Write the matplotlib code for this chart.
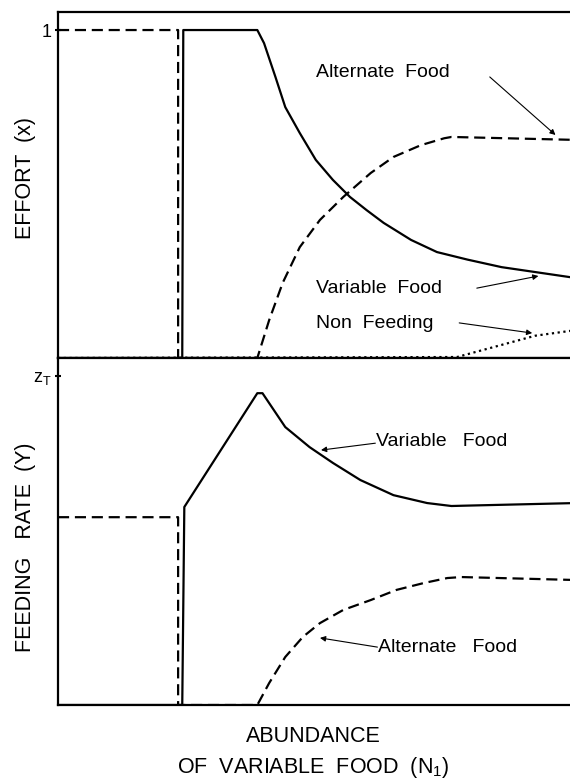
import matplotlib.pyplot as plt

plt.rcParams['font.family'] = ['Liberation Sans', 'DejaVu Sans']
plt.rcParams['mathtext.fontset'] = 'custom'
plt.rcParams['mathtext.rm'] = 'Liberation Sans'
plt.rcParams['mathtext.it'] = 'Liberation Sans'

# abundance axis runs 0..100 (arbitrary units), effort / rate scaled so the tick = 1
# --- effort panel ---
alt_effort_x = [0, 23.2, 23.2, 38.5, 40.8, 43.4, 46.7, 50.6, 55.1, 60.4, 64.8, 70.1, 74.6, 76.0, 100]
alt_effort_y = [1, 1, 0, 0, 0.116, 0.229, 0.338, 0.421, 0.491, 0.564, 0.613, 0.649, 0.670, 0.674, 0.665]

var_effort_x = [0, 24.0, 24.2, 38.5, 39.8, 42.0, 43.9, 46.7, 49.8, 53.1, 56.4, 59.6,
                62.9, 68.2, 73.2, 79.1, 85.7, 92.2, 100]
var_effort_y = [0, 0, 1, 1, 0.960, 0.857, 0.765, 0.686, 0.604, 0.543, 0.491, 0.451,
                0.412, 0.360, 0.323, 0.300, 0.277, 0.262, 0.244]

non_feed_x = [0, 77.1, 85.7, 92.2, 100]
non_feed_y = [0, 0.003, 0.040, 0.068, 0.085]

# --- feeding rate panel ---
alt_rate_x = [0, 23.2, 23.2, 38.5, 40.8, 43.9, 47.3, 50.6, 55.1, 60.4, 65.4, 70.7, 75.2, 77.9, 100]
alt_rate_y = [0.571, 0.571, 0, 0, 0.067, 0.146, 0.207, 0.249, 0.289, 0.319, 0.350, 0.371, 0.386, 0.389, 0.380]

var_rate_x = [0, 24.0, 24.4, 38.5, 39.5, 43.9, 48.6, 53.1, 58.4, 64.8, 71.3, 76.0, 78.5, 100]
var_rate_y = [0, 0, 0.602, 0.948, 0.948, 0.845, 0.784, 0.736, 0.684, 0.638, 0.614, 0.605, 0.606, 0.614]

fig = plt.figure(figsize=(5.7, 7.8), dpi=100)
ax1 = fig.add_axes([58/570, 1-358/780, 1-58/570+0.01, 346/780])
ax2 = fig.add_axes([58/570, 1-705/780, 1-58/570+0.01, 347/780])

dash = (5, 2.6)
lw = 1.6

ax1.plot(alt_effort_x, alt_effort_y, color='black', lw=lw, dashes=dash)
ax1.plot(var_effort_x, var_effort_y, color='black', lw=lw)
ax1.plot(non_feed_x, non_feed_y, color='black', lw=lw, linestyle=(0, (1, 1.6)))

ax2.plot(alt_rate_x, alt_rate_y, color='black', lw=lw, dashes=dash)
ax2.plot(var_rate_x, var_rate_y, color='black', lw=lw)

for ax in (ax1, ax2):
    ax.set_xlim(0, 100)
    ax.set_ylim(0, 1.055)
    ax.set_xticks([])
    ax.set_yticks([1])
    ax.tick_params(axis='y', direction='inout', length=5, width=1.5, labelsize=13, pad=2)
    for s in ax.spines.values():
        s.set_linewidth(1.6)
    ax.spines['right'].set_visible(False)

ax1.set_yticklabels(['1'])
ax2.set_yticklabels([r'$\mathregular{z_T}$'])

ax1.set_ylabel('EFFORT  (x)', fontsize=15.5)
ax2.set_ylabel('FEEDING   RATE  (Y)', fontsize=15.5)
ax1.yaxis.set_label_coords(-0.043, 0.52)
ax2.yaxis.set_label_coords(-0.043, 0.455)

fs = 14
arrow = dict(arrowstyle='-|>', lw=0.8, color='black', mutation_scale=8, shrinkA=0, shrinkB=0)

ax1.text(49.8, 0.872, 'Alternate  Food', fontsize=fs, va='center', ha='left')
ax1.annotate('', xy=(96.1, 0.680), xytext=(83.4, 0.857), arrowprops=arrow)
ax1.text(49.8, 0.213, 'Variable  Food', fontsize=fs, va='center', ha='left')
ax1.annotate('', xy=(92.8, 0.250), xytext=(80.9, 0.213), arrowprops=arrow)
ax1.text(49.8, 0.104, 'Non  Feeding', fontsize=fs, va='center', ha='left')
ax1.annotate('', xy=(91.6, 0.076), xytext=(77.5, 0.107), arrowprops=arrow)

ax2.text(61.5, 0.802, 'Variable   Food', fontsize=fs, va='center', ha='left')
ax2.annotate('', xy=(50.8, 0.775), xytext=(61.3, 0.796), arrowprops=arrow)
ax2.text(61.9, 0.176, 'Alternate   Food', fontsize=fs, va='center', ha='left')
ax2.annotate('', xy=(50.6, 0.204), xytext=(61.7, 0.176), arrowprops=arrow)

fig.text(313/570, 1-737/780, 'ABUNDANCE', fontsize=15.5, ha='center', va='center')
fig.text(313/570, 1-768/780, r'OF  VARIABLE  FOOD  (N$_1$)', fontsize=15.5, ha='center', va='center')

fig.savefig('out.png', dpi=100)
